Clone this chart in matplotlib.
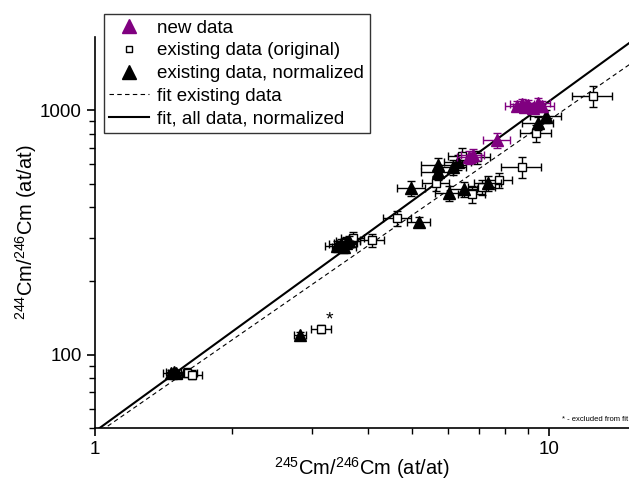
import numpy as np
import matplotlib.pyplot as plt
from matplotlib.lines import Line2D

plt.rcParams['font.family'] = ['Liberation Sans', 'DejaVu Sans']
plt.rcParams['mathtext.fontset'] = 'custom'
plt.rcParams['mathtext.rm'] = 'Liberation Sans'
plt.rcParams['mathtext.default'] = 'regular'

# новые данные (фиолетовые треугольники)
new_x = [8.50, 8.72, 8.85, 8.99, 9.22, 9.46, 9.65, 7.68, 6.68, 6.80]
new_y = [1040, 1060, 1030, 1050, 1020, 1065, 1035, 755, 640, 655]
new_xerr = [6, 6, 6, 6, 6, 6, 6, 7, 6, 6]   # %
new_yerr = [5, 5, 5, 5, 5, 5, 5, 7, 6, 6]   # %

# существующие данные (исходные, квадраты)
orig_x = [1.595, 1.636, 3.15, 3.70, 4.08, 4.63, 5.64, 6.43, 6.94, 6.77, 7.12, 7.76, 8.72, 9.36, 12.5]
orig_y = [84.4, 82.8, 127.6, 300, 294, 362, 503, 649, 643, 454, 485, 518, 585, 806, 1141]
orig_xerr = [5, 5, 5, 6, 6, 7, 7, 7, 7, 7, 7, 7, 10, 8, 10]
orig_yerr = [4, 4, 4, 6, 6, 7, 7, 8, 6, 8, 7, 7, 10, 8, 10]

# существующие данные, нормированные (чёрные треугольники)
norm_x = [1.47, 1.49, 1.51, 2.83, 3.41, 3.49, 3.57, 3.62, 3.54, 4.97, 5.17,
          5.69, 5.69, 6.14, 6.30, 6.02, 6.50, 7.34, 9.46, 9.85]
norm_y = [84.0, 84.8, 84.0, 120, 277, 282, 287, 290, 275, 480, 349,
          596, 558, 585, 613, 458, 476, 503, 885, 945]
norm_xerr = [4, 4, 4, 3, 6, 6, 6, 6, 6, 7, 6, 8, 8, 7, 7, 7, 7, 7, 8, 8]
norm_yerr = [3, 3, 3, 3, 5, 5, 5, 5, 5, 7, 5, 7, 7, 7, 7, 7, 7, 7, 6, 6]

# параметры аппроксимации y = a * x^b
fit_existing = (46.9, 1.287)
fit_all = (48.5, 1.35)

# исключённая точка
star_x, star_y = 3.29, 139

fig = plt.figure(figsize=(6.29, 4.8), dpi=100)
ax = fig.add_axes([0.151, 0.108, 0.849, 0.815])


def rel(vals, pct):
    return np.array(vals) * np.array(pct) / 100.0


ax.errorbar(orig_x, orig_y, xerr=rel(orig_x, orig_xerr), yerr=rel(orig_y, orig_yerr),
            fmt='s', ms=6, mfc='white', mec='black', mew=1, ecolor='black',
            elinewidth=1, capsize=3, capthick=1, zorder=3)
ax.errorbar(norm_x, norm_y, xerr=rel(norm_x, norm_xerr), yerr=rel(norm_y, norm_yerr),
            fmt='^', ms=8, color='black', ecolor='black',
            elinewidth=1, capsize=3, capthick=1, zorder=4)
ax.errorbar(new_x, new_y, xerr=rel(new_x, new_xerr), yerr=rel(new_y, new_yerr),
            fmt='^', ms=8, color='#800080', ecolor='#800080',
            elinewidth=1, capsize=3, capthick=1, zorder=5)

xx = np.logspace(0, np.log10(16), 200)
ax.plot(xx, fit_existing[0] * xx ** fit_existing[1], ls=(0, (4, 3)), lw=0.8, color='black', zorder=2)
ax.plot(xx, fit_all[0] * xx ** fit_all[1], ls='-', lw=1.5, color='black', zorder=2)

ax.text(star_x, star_y, '*', fontsize=14, ha='center', va='center')
ax.text(0.998, 0.012, '* - excluded from fit', fontsize=5.5, ha='right', va='bottom',
        transform=ax.transAxes)

ax.set_xscale('log')
ax.set_yscale('log')
ax.set_xlim(1, 15.0)
ax.set_ylim(50, 1990)
ax.set_xticks([1, 10])
ax.set_xticklabels(['1', '10'])
ax.set_yticks([100, 1000])
ax.set_yticklabels(['100', '1000'])
ax.tick_params(which='major', direction='out', length=6, width=1.2, labelsize=13.5)
ax.tick_params(which='minor', direction='out', length=4, width=1)
ax.yaxis.set_minor_formatter(plt.NullFormatter())
ax.xaxis.set_minor_formatter(plt.NullFormatter())
for s in ['top', 'right']:
    ax.spines[s].set_visible(False)
for s in ['left', 'bottom']:
    ax.spines[s].set_linewidth(1.2)

ax.set_xlabel('$^{245}$Cm/$^{246}$Cm (at/at)', fontsize=14.5)
ax.set_ylabel('$^{244}$Cm/$^{246}$Cm (at/at)', fontsize=14.5)
ax.xaxis.set_label_coords(0.5, -0.068)
ax.yaxis.set_label_coords(-0.105, 0.5)

handles = [
    Line2D([], [], ls='none', marker='^', ms=10, color='#800080'),
    Line2D([], [], ls='none', marker='s', ms=5, mfc='white', mec='black'),
    Line2D([], [], ls='none', marker='^', ms=10, color='black'),
    Line2D([], [], ls=(0, (4, 3)), lw=0.8, color='black'),
    Line2D([], [], ls='-', lw=1.5, color='black'),
]
labels = ['new data', 'existing data (original)', 'existing data, normalized',
          'fit existing data', 'fit, all data, normalized']
leg = fig.legend(handles, labels, loc='upper left', bbox_to_anchor=(0.165, 0.971),
                 fontsize=13.5, frameon=True, fancybox=False, edgecolor='black',
                 handlelength=2.1, handletextpad=0.45, borderpad=0.3, labelspacing=0.3,
                 borderaxespad=0)
leg.get_frame().set_linewidth(1)

fig.savefig('out.png', dpi=100)
